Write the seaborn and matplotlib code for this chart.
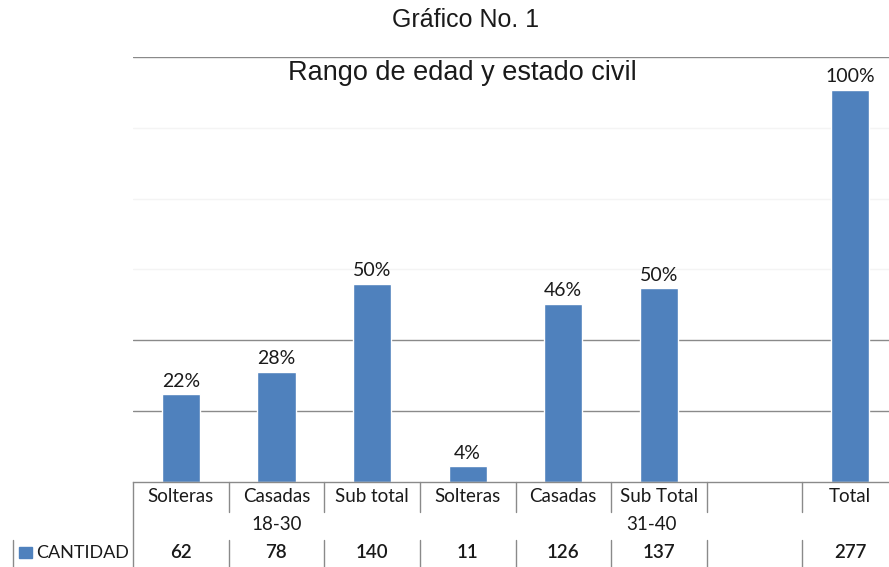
import matplotlib
matplotlib.use("Agg")
import matplotlib.pyplot as plt
import matplotlib.transforms as mtransforms
from matplotlib.ticker import MultipleLocator
import numpy as np
import pandas as pd
import seaborn as sns

# Data
slots = ["s1", "s2", "s3", "s4", "s5", "s6", "s7", "s8"]
categories = ["Solteras", "Casadas", "Sub total", "Solteras", "Casadas", "Sub Total", "", "Total"]
cantidad = [62, 78, 140, 11, 126, 137, np.nan, 277]
cantidad_text = ["62", "78", "140", "11", "126", "137", "", "277"]
percent_labels = ["22%", "28%", "50%", "4%", "46%", "50%", "", "100%"]
groups = ["18-30", "31-40"]
group_spans = [(0, 2), (3, 7)]  # first and last slot index of each age group
series_name = "CANTIDAD"

BLUE = "#4F81BD"
GRID_DARK = "#8a8a8a"
GRID_FAINT = "#f4f4f4"
TEXT = "#1a1a1a"
CAL = ["Lato", "DejaVu Sans"]

sns.set_theme(style="white")
plt.rcParams["font.family"] = ["Liberation Sans", "DejaVu Sans"]

W, H = 889, 567
fig = plt.figure(figsize=(W / 100, H / 100), dpi=100)
fig.patch.set_facecolor("white")

# plot area in pixel coordinates
left_px, right_px, top_px, base_px = 133, 898, 57, 482
ax = fig.add_axes([left_px / W, (H - base_px) / H,
                   (right_px - left_px) / W, (base_px - top_px) / H])

df = pd.DataFrame({"slot": slots, "cantidad": cantidad})
sns.barplot(data=df, x="slot", y="cantidad", order=slots, color=BLUE,
            saturation=1, width=0.4, errorbar=None, ax=ax)

ax.set_xlim(-0.5, len(slots) - 0.5)
ax.set_ylim(0, 300)
ax.yaxis.set_major_locator(MultipleLocator(50))
ax.set_xlabel("")
ax.set_ylabel("")
ax.set_xticks([])
ax.set_yticklabels([])
ax.tick_params(left=False, bottom=False)
for side in ["left", "right", "top"]:
    ax.spines[side].set_visible(False)
ax.spines["bottom"].set_color(GRID_DARK)
ax.spines["bottom"].set_linewidth(1.0)

# horizontal gridlines: some strong, some barely visible
for yv in ax.get_yticks():
    if yv <= 0:
        continue
    col = GRID_DARK if yv in (50, 100, 300) else GRID_FAINT
    ax.axhline(yv, color=col, linewidth=1.0, zorder=0)

# percentage labels above bars
for i, (v, lab) in enumerate(zip(cantidad, percent_labels)):
    if lab and not np.isnan(v):
        ax.annotate(lab, xy=(i, v), xytext=(0, 3), textcoords="offset points",
                    ha="center", va="bottom", fontsize=14, color=TEXT,
                    family=CAL)

# titles
fig.text(466 / W, 1 - 20 / H, "Gráfico No. 1", ha="center", va="center",
         fontsize=18, color=TEXT)
fig.text(462 / W, 1 - 73 / H, "Rango de edad y estado civil", ha="center",
         va="center", fontsize=19.5, color=TEXT)

# data table below the axis
tr = mtransforms.blended_transform_factory(ax.transData, fig.transFigure)
def fy(px):
    return 1 - px / H

row1, row2, row3 = 497, 525, 553
for i, c in enumerate(categories):
    if c:
        ax.text(i, fy(row1), c, transform=tr, ha="center", va="center",
                fontsize=13.5, color=TEXT, family=CAL)
    if cantidad_text[i]:
        ax.text(i, fy(row3), cantidad_text[i], transform=tr, ha="center",
                va="center", fontsize=13.5, color=TEXT, family=CAL,
                fontweight="semibold")
for g, (a, b) in zip(groups, group_spans):
    ax.text((a + b) / 2 - (0.08 if a > 0 else 0), fy(row2), g, transform=tr,
            ha="center", va="center", fontsize=13.5, color=TEXT, family=CAL)

line_kw = dict(color=GRID_DARK, linewidth=1.0, transform=tr, clip_on=False)
# left border of the table
ax.plot([-0.5, -0.5], [fy(base_px), fy(H + 2)], **line_kw)
for k in range(1, len(slots)):
    x = k - 0.5
    ax.plot([x, x], [fy(base_px), fy(512)], **line_kw)
    ax.plot([x, x], [fy(540), fy(H + 2)], **line_kw)

# series key at the left of the value row
fig.add_artist(plt.Line2D([13 / W, 13 / W], [fy(540), fy(H + 2)],
                          color=GRID_DARK, linewidth=1.0))
fig.add_artist(plt.Rectangle((19 / W, fy(558)), 13 / W, 11 / H,
                             color=BLUE, transform=fig.transFigure))
fig.text(36 / W, fy(row3), series_name, ha="left", va="center",
         fontsize=13, color=TEXT, family=CAL)

fig.savefig("out.png", dpi=100, facecolor="white")
